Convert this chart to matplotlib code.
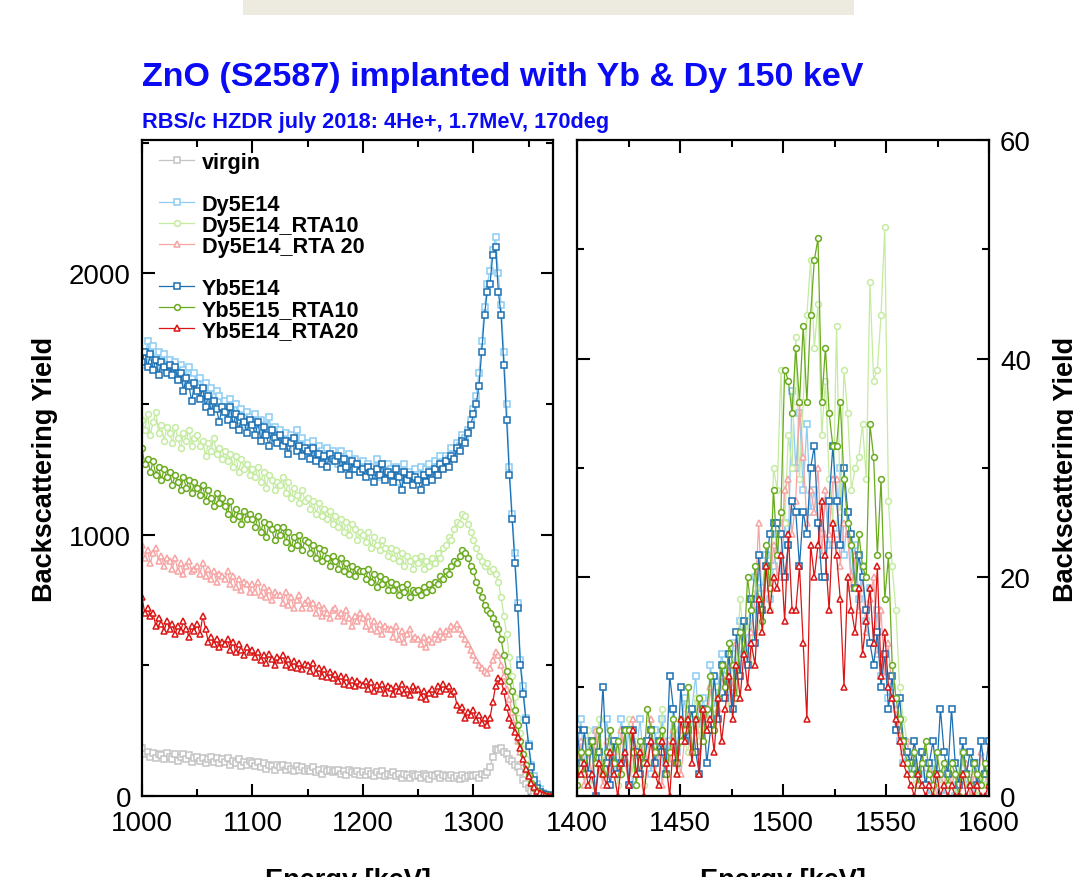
import numpy as np
import matplotlib
matplotlib.use("Agg")
import matplotlib.pyplot as plt
from matplotlib.lines import Line2D
from matplotlib.patches import Rectangle
from matplotlib.ticker import MultipleLocator

plt.rcParams['font.family'] = ['Liberation Sans', 'DejaVu Sans']

# energy channels (keV)
energy_left = np.arange(1000, 1370.1, 2.5)
energy_right = np.arange(1400, 1600, 1.8)

labels = ['virgin', 'Dy5E14', 'Dy5E14_RTA10', 'Dy5E14_RTA 20',
          'Yb5E14', 'Yb5E15_RTA10', 'Yb5E14_RTA20']
colors = ['#c4c4c4', '#8ccdf4', '#c4eba0', '#f7a4a4',
          '#1b6fb2', '#6aaa1e', '#da1515']
markers = ['s', 's', 'o', '^', 's', 'o', '^']

# ---- left panel: 1000-1370 keV ----
virgin_left = [
    185, 160, 170, 150, 165, 145, 160, 155, 140, 165,
    150, 140, 160, 135, 150, 160, 140, 155, 130, 145,
    150, 135, 145, 125, 140, 150, 130, 145, 125, 140,
    130, 145, 120, 135, 125, 140, 115, 130, 120, 135,
    125, 115, 130, 110, 125, 105, 120, 115, 100, 120,
    110, 120, 100, 115, 105, 95, 115, 100, 110, 95,
    105, 95, 110, 90, 100, 85, 105, 95, 100, 90,
    95, 100, 85, 95, 80, 100, 90, 85, 95, 80,
    90, 80, 95, 85, 75, 90, 80, 95, 75, 85,
    80, 90, 75, 85, 70, 85, 80, 70, 85, 75,
    80, 70, 85, 75, 65, 80, 75, 85, 70, 80,
    75, 70, 80, 70, 75, 65, 80, 70, 75, 80,
    75, 80, 70, 85, 80, 90, 110, 150, 180, 175,
    185, 170, 160, 140, 135, 120, 110, 90, 60, 45,
    30, 18, 10, 5, 3, 1, 0, 0, 0]

dy5e14_left = [
    1700, 1650, 1740, 1680, 1720, 1640, 1700, 1660, 1690, 1630,
    1670, 1620, 1660, 1600, 1650, 1630, 1580, 1640, 1600, 1620,
    1560, 1600, 1540, 1580, 1520, 1560, 1500, 1550, 1530, 1490,
    1510, 1470, 1520, 1460, 1500, 1440, 1480, 1420, 1470, 1450,
    1430, 1460, 1400, 1440, 1380, 1420, 1450, 1390, 1410, 1360,
    1400, 1360, 1390, 1340, 1380, 1350, 1400, 1330, 1370, 1340,
    1350, 1310, 1360, 1290, 1340, 1320, 1280, 1330, 1300, 1320,
    1300, 1270, 1320, 1260, 1290, 1310, 1250, 1290, 1270, 1240,
    1280, 1240, 1270, 1230, 1260, 1290, 1220, 1260, 1240, 1270,
    1250, 1220, 1260, 1200, 1240, 1270, 1210, 1240, 1220, 1250,
    1230, 1260, 1220, 1250, 1270, 1230, 1280, 1260, 1300, 1270,
    1300, 1290, 1330, 1310, 1350, 1340, 1380, 1370, 1400, 1440,
    1480, 1530, 1620, 1740, 1870, 1960, 2010, 2090, 2140, 2000,
    1880, 1700, 1500, 1260, 1080, 930, 740, 520, 420, 300,
    200, 120, 75, 45, 25, 12, 6, 3, 1]

dy5e14_rta10_left = [
    1440, 1400, 1460, 1380, 1430, 1470, 1390, 1420, 1360, 1410,
    1390, 1350, 1410, 1370, 1330, 1390, 1360, 1400, 1340, 1370,
    1380, 1340, 1360, 1300, 1350, 1320, 1370, 1310, 1330, 1290,
    1320, 1280, 1310, 1260, 1300, 1240, 1290, 1250, 1270, 1230,
    1250, 1220, 1260, 1200, 1240, 1180, 1230, 1210, 1170, 1200,
    1190, 1220, 1160, 1200, 1140, 1180, 1150, 1120, 1170, 1130,
    1140, 1100, 1130, 1080, 1120, 1070, 1100, 1060, 1090, 1040,
    1070, 1030, 1060, 1010, 1050, 1000, 1040, 1020, 980, 1010,
    1000, 970, 1010, 950, 990, 960, 940, 980, 950, 920,
    950, 910, 940, 900, 930, 880, 920, 900, 870, 910,
    890, 920, 870, 900, 880, 910, 890, 930, 910, 950,
    960, 990, 980, 1020, 1050, 1040, 1080, 1070, 1040, 1010,
    980, 950, 920, 900, 880, 890, 860, 870, 850, 820,
    760, 690, 620, 530, 460, 380, 300, 240, 180, 140,
    100, 70, 45, 28, 16, 9, 5, 2, 1]

dy5e14_rta20_left = [
    960, 910, 940, 890, 930, 950, 900, 920, 880, 910,
    900, 870, 910, 860, 890, 850, 880, 900, 860, 870,
    880, 850, 890, 840, 870, 830, 860, 820, 850, 840,
    830, 860, 810, 840, 800, 830, 790, 820, 810, 780,
    810, 780, 820, 770, 800, 760, 790, 750, 780, 770,
    770, 740, 780, 730, 760, 720, 750, 770, 720, 740,
    750, 720, 740, 700, 730, 690, 720, 700, 680, 710,
    720, 690, 700, 670, 710, 680, 650, 690, 670, 700,
    680, 650, 690, 640, 670, 630, 660, 620, 650, 640,
    640, 610, 650, 600, 630, 590, 620, 640, 600, 610,
    600, 580, 610, 570, 600, 590, 620, 600, 630, 610,
    630, 620, 650, 640, 660, 640, 620, 600, 580, 560,
    540, 520, 500, 490, 480, 470, 490, 520, 550, 540,
    500, 460, 410, 370, 320, 270, 210, 170, 130, 100,
    75, 50, 32, 20, 12, 6, 3, 1, 0]

yb5e14_left = [
    1660, 1700, 1640, 1690, 1630, 1670, 1610, 1660, 1640, 1620,
    1650, 1610, 1640, 1590, 1620, 1550, 1600, 1570, 1510, 1580,
    1550, 1520, 1560, 1490, 1530, 1470, 1510, 1480, 1430, 1490,
    1470, 1440, 1490, 1420, 1460, 1400, 1450, 1430, 1390, 1440,
    1420, 1380, 1430, 1360, 1410, 1380, 1340, 1400, 1370, 1350,
    1380, 1340, 1360, 1310, 1350, 1370, 1320, 1340, 1300, 1330,
    1320, 1290, 1330, 1280, 1310, 1270, 1300, 1260, 1310, 1290,
    1280, 1300, 1250, 1290, 1260, 1230, 1280, 1250, 1270, 1240,
    1250, 1220, 1260, 1240, 1200, 1250, 1230, 1270, 1210, 1240,
    1230, 1200, 1250, 1220, 1170, 1240, 1210, 1230, 1190, 1220,
    1210, 1170, 1230, 1200, 1240, 1210, 1250, 1230, 1270, 1250,
    1280, 1260, 1300, 1290, 1330, 1320, 1360, 1350, 1390, 1420,
    1460, 1500, 1570, 1700, 1840, 1930, 1960, 2070, 2100, 1930,
    1840, 1650, 1440, 1230, 1060, 890, 720, 500, 390, 290,
    190, 110, 60, 30, 15, 8, 4, 2, 1]

yb5e15_rta10_left = [
    1330, 1270, 1290, 1240, 1280, 1230, 1260, 1210, 1250, 1220,
    1240, 1190, 1230, 1200, 1170, 1220, 1180, 1210, 1160, 1200,
    1180, 1150, 1190, 1130, 1170, 1140, 1110, 1160, 1120, 1140,
    1110, 1080, 1130, 1060, 1100, 1070, 1040, 1090, 1060, 1080,
    1060, 1030, 1070, 1010, 1050, 990, 1040, 1020, 980, 1030,
    1000, 1030, 970, 1010, 950, 990, 960, 1000, 940, 980,
    970, 930, 960, 910, 950, 900, 940, 910, 880, 920,
    900, 870, 910, 860, 890, 850, 880, 840, 870, 860,
    860, 830, 870, 820, 850, 800, 840, 810, 830, 790,
    820, 790, 810, 770, 800, 780, 810, 760, 790, 780,
    790, 770, 800, 780, 810, 790, 820, 810, 840, 830,
    860, 850, 880, 900, 890, 920, 940, 930, 910, 880,
    860, 820, 790, 760, 730, 710, 700, 680, 660, 640,
    600, 540, 480, 440, 400, 330, 270, 210, 160, 120,
    80, 50, 30, 18, 10, 5, 3, 1, 0]

yb5e14_rta20_left = [
    760, 700, 720, 690, 700, 650, 680, 660, 630, 670,
    640, 660, 620, 650, 630, 670, 640, 610, 650, 630,
    660, 620, 690, 640, 590, 610, 580, 600, 570, 590,
    580, 600, 560, 590, 550, 580, 560, 540, 570, 550,
    560, 530, 550, 520, 540, 510, 545, 525, 500, 530,
    520, 540, 500, 525, 495, 515, 490, 510, 485, 505,
    500, 480, 510, 470, 490, 460, 485, 455, 475, 450,
    465, 440, 460, 430, 455, 425, 445, 420, 440, 430,
    425, 440, 410, 435, 400, 425, 410, 430, 395, 420,
    415, 390, 420, 400, 430, 395, 410, 385, 420, 405,
    410, 380, 400, 370, 395, 410, 390, 420, 400, 430,
    410, 420, 390, 400, 350, 330, 340, 300, 320, 310,
    330, 290, 310, 280, 300, 270, 300, 360, 420, 450,
    440, 400, 340, 300, 270, 245, 225, 185, 141, 105,
    75, 50, 35, 20, 12, 6, 3, 1, 0]

# ---- right panel: 1400-1600 keV ----
dy5e14_right = [
    4, 7, 3, 5, 1, 6, 3, 2, 7, 4,
    2, 5, 7, 3, 6, 1, 4, 7, 3, 5,
    2, 6, 4, 7, 3, 5, 8, 4, 6, 9,
    5, 8, 11, 6, 9, 7, 12, 8, 10, 13,
    11, 9, 14, 12, 16, 13, 15, 18, 20, 17,
    19, 22, 18, 21, 24, 20, 25, 23, 37, 30,
    35, 28, 34, 26, 28, 25, 24, 27, 23, 23,
    24, 30, 22, 26, 20, 23, 18, 21, 16, 19,
    14, 17, 11, 13, 9, 10, 6, 5, 3, 4,
    2, 3, 1, 4, 2, 0, 3, 1, 2, 0,
    3, 1, 0, 2, 4, 1, 2, 0, 3, 1,
    2, 0]

dy5e14_rta10_right = [
    3, 5, 2, 6, 1, 4, 7, 3, 2, 5,
    4, 1, 6, 3, 7, 2, 5, 4, 1, 3,
    6, 2, 5, 8, 4, 3, 6, 2, 7, 5,
    4, 7, 9, 5, 8, 6, 10, 7, 9, 12,
    10, 8, 13, 11, 18, 14, 16, 12, 19, 15,
    18, 21, 17, 30, 28, 39, 25, 33, 30, 42,
    29, 36, 44, 49, 41, 45, 33, 38, 29, 25,
    43, 26, 39, 35, 28, 30, 31, 34, 29, 47,
    38, 39, 44, 52, 27, 21, 17, 10, 7, 5,
    3, 1, 2, 4, 1, 3, 0, 2, 1, 3,
    1, 2, 0, 3, 1, 2, 4, 1, 0, 2,
    1, 3]

dy5e14_rta20_right = [
    3, 5, 1, 4, 2, 6, 3, 1, 5, 2,
    4, 2, 6, 3, 1, 7, 4, 2, 5, 3,
    7, 2, 4, 1, 5, 3, 6, 4, 2, 5,
    8, 4, 6, 9, 5, 7, 10, 6, 8, 11,
    9, 12, 10, 14, 11, 16, 13, 15, 18, 25,
    17, 21, 19, 23, 20, 22, 28, 29, 24, 27,
    36, 31, 25, 28, 26, 30, 22, 28, 24, 29,
    29, 21, 25, 24, 19, 22, 17, 20, 15, 18,
    20, 13, 17, 11, 14, 9, 8, 6, 4, 5,
    3, 5, 2, 4, 1, 3, 2, 0, 2, 1,
    3, 1, 2, 0, 1, 3, 0, 2, 1, 4,
    2, 1]

yb5e14_right = [
    6, 3, 6, 2, 5, 0, 4, 10, 3, 1,
    5, 2, 3, 6, 1, 6, 4, 2, 3, 5,
    6, 3, 5, 4, 2, 11, 8, 3, 10, 5,
    6, 8, 4, 2, 8, 3, 6, 11, 7, 12,
    9, 13, 8, 15, 11, 16, 12, 18, 14, 22,
    17, 21, 24, 25, 25, 24, 20, 23, 27, 26,
    21, 26, 24, 30, 32, 25, 20, 20, 27, 32,
    27, 23, 30, 26, 24, 19, 22, 20, 17, 14,
    12, 15, 10, 13, 8, 11, 6, 9, 5, 4,
    3, 5, 2, 4, 1, 3, 5, 2, 8, 4,
    2, 8, 3, 1, 5, 2, 4, 3, 1, 5,
    2, 5]

yb5e15_rta10_right = [
    1, 4, 2, 4, 5, 3, 6, 2, 4, 6,
    3, 5, 2, 6, 6, 4, 1, 5, 3, 8,
    6, 4, 5, 6, 2, 4, 7, 3, 5, 6,
    10, 4, 7, 9, 5, 8, 11, 6, 9, 12,
    10, 14, 12, 9, 15, 13, 20, 17, 21, 18,
    16, 23, 19, 28, 22, 26, 39, 38, 35, 41,
    36, 43, 36, 44, 49, 51, 36, 41, 35, 32,
    32, 36, 29, 25, 23, 19, 24, 21, 20, 34,
    31, 22, 29, 18, 22, 12, 9, 7, 5, 3,
    2, 4, 1, 3, 5, 2, 1, 4, 2, 3,
    1, 3, 2, 0, 4, 2, 1, 3, 2, 1,
    3, 1]

yb5e14_rta20_right = [
    2, 2, 3, 1, 2, 0, 3, 2, 1, 4,
    2, 0, 3, 4, 1, 6, 2, 4, 0, 3,
    5, 2, 1, 5, 3, 0, 5, 2, 7, 5,
    7, 3, 7, 2, 8, 6, 7, 4, 9, 5,
    8, 11, 7, 12, 9, 13, 10, 14, 12, 18,
    15, 21, 17, 20, 19, 22, 16, 24, 17, 17,
    21, 14, 7, 23, 20, 23, 27, 22, 17, 25,
    22, 18, 10, 20, 17, 15, 19, 13, 16, 19,
    14, 21, 11, 15, 10, 9, 7, 5, 3, 2,
    1, 0, 2, 1, 0, 1, 0, 2, 0, 1,
    0, 1, 0, 0, 2, 0, 1, 0, 1, 0,
    0, 1]

left_data = [virgin_left, dy5e14_left, dy5e14_rta10_left, dy5e14_rta20_left,
             yb5e14_left, yb5e15_rta10_left, yb5e14_rta20_left]
right_data = [None, dy5e14_right, dy5e14_rta10_right, dy5e14_rta20_right,
              yb5e14_right, yb5e15_rta10_right, yb5e14_rta20_right]

W, H = 1073, 878
fig = plt.figure(figsize=(W / 100, H / 100), dpi=100)
ax1 = fig.add_axes([142 / W, 81 / H, 411 / W, 656 / H])
ax2 = fig.add_axes([577 / W, 81 / H, 412 / W, 656 / H])

# grey strip at the very top (cut off banner)
fig.add_artist(Rectangle((243 / W, 1 - 16 / H), 611 / W, 16 / H,
                         transform=fig.transFigure, facecolor='#edeae0',
                         edgecolor='none'))

handles = []
for lab, col, mk, yl, yr in zip(labels, colors, markers, left_data, right_data):
    ms = 4.8 if mk == '^' else 4.2
    kw = dict(color=col, marker=mk, ms=ms, mfc='white', mew=1.1, lw=0.9)
    h, = ax1.plot(energy_left, yl, label=lab, **kw)
    handles.append(h)
    if yr is not None:
        ax2.plot(energy_right, yr, **kw)

ax1.set_xlim(1000, 1372)
ax1.set_ylim(0, 2510)
ax1.xaxis.set_major_locator(MultipleLocator(100))
ax1.xaxis.set_minor_locator(MultipleLocator(50))
ax1.yaxis.set_major_locator(MultipleLocator(1000))
ax1.yaxis.set_minor_locator(MultipleLocator(500))

ax2.set_xlim(1400, 1600)
ax2.set_ylim(0, 60)
ax2.xaxis.set_major_locator(MultipleLocator(50))
ax2.xaxis.set_minor_locator(MultipleLocator(25))
ax2.yaxis.set_major_locator(MultipleLocator(20))
ax2.yaxis.set_minor_locator(MultipleLocator(10))

for ax in (ax1, ax2):
    ax.tick_params(which='both', direction='in', top=True, right=True,
                   left=True, bottom=True, width=1.5, labelsize=20)
    ax.tick_params(axis='x', which='both', pad=10)
    ax.tick_params(axis='y', which='both', pad=8)
    ax.tick_params(which='major', length=9)
    ax.tick_params(which='minor', length=5)
    for s in ax.spines.values():
        s.set_linewidth(1.6)
    ax.set_xlabel('Energy [keV]', fontsize=19.5, fontweight='bold')
    ax.xaxis.set_label_coords(0.5, -0.108)

ax2.tick_params(labelleft=False, labelright=True)

ax1.set_ylabel('Backscattering Yield', fontsize=19.5, fontweight='bold')
ax1.yaxis.set_label_coords(-0.204, 0.5)
ax2.yaxis.set_label_position('right')
ax2.set_ylabel('Backscattering Yield', fontsize=19.5, fontweight='bold')
ax2.yaxis.set_label_coords(1.156, 0.5)

blank = Line2D([], [], linestyle='none', marker='None')
leg_handles = [handles[0], blank, handles[1], handles[2], handles[3],
               blank, handles[4], handles[5], handles[6]]
leg_labels = [labels[0], ' ', labels[1], labels[2], labels[3],
              ' ', labels[4], labels[5], labels[6]]
ax1.legend(leg_handles, leg_labels, loc='upper left',
           bbox_to_anchor=(0.042, 0.982), frameon=False,
           prop={'weight': 'bold', 'size': 15.6}, handlelength=1.6,
           handletextpad=0.37, labelspacing=0.0, borderpad=0,
           borderaxespad=0, numpoints=1)

fig.text(142 / W, 1 - 86 / H, 'ZnO (S2587) implanted with Yb & Dy 150 keV',
         fontsize=24.5, fontweight='bold', color='#0a0af5', va='baseline')
fig.text(142 / W, 1 - 128 / H, 'RBS/c HZDR july 2018: 4He+, 1.7MeV, 170deg',
         fontsize=15.7, fontweight='bold', color='#0a0af5', va='baseline')

fig.savefig('out.png', dpi=100)
